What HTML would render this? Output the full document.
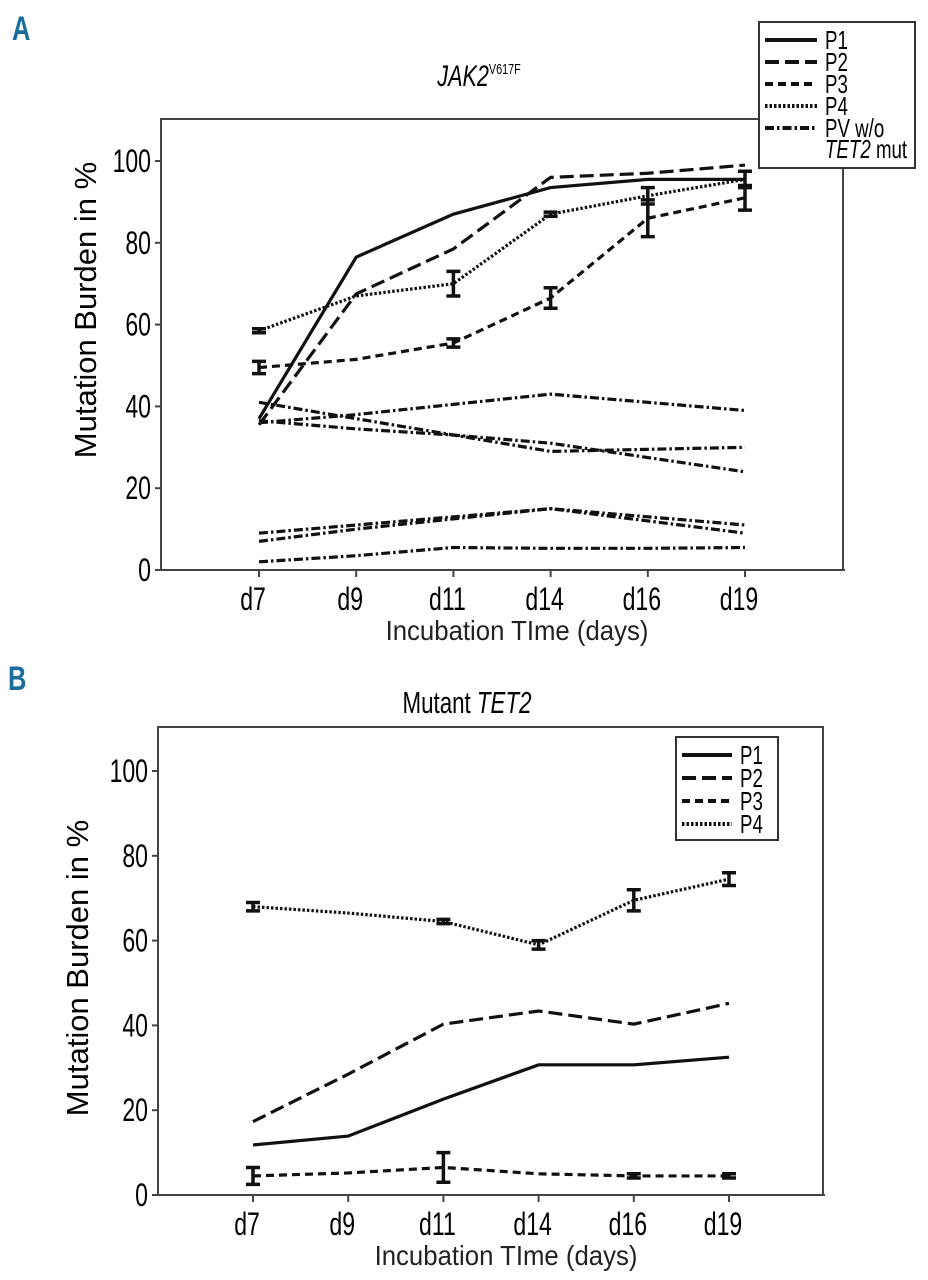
<!DOCTYPE html>
<html><head><meta charset="utf-8"><style>
html,body{margin:0;padding:0;background:#fff;}
svg{display:block;font-family:"Liberation Sans Narrow","Liberation Sans",sans-serif;}
</style></head><body>
<svg id="fig" width="928" height="1280" viewBox="0 0 928 1280" xmlns="http://www.w3.org/2000/svg">
<text transform="translate(12,40) scale(0.75,1)" font-size="34" font-weight="bold" fill="#1b6e9c">A</text>
<text transform="translate(479,86) scale(0.72,1)" font-size="30" text-anchor="middle" font-style="italic">JAK2<tspan font-size="15" dy="-12" font-style="normal">V617F</tspan></text>
<text transform="translate(8,690) scale(0.75,1)" font-size="34" font-weight="bold" fill="#1b6e9c">B</text>
<text transform="translate(467,713) scale(0.72,1)" font-size="31" text-anchor="middle">Mutant <tspan font-style="italic">TET2</tspan></text>
<g id="pa"></g>
<g id="pb"></g>
</svg>
<script>
const categories = ["d7","d9","d11","d14","d16","d19"];
const yTicks = [0,20,40,60,80,100];
const seriesNames = ["P1","P2","P3","P4"];
// Panel A
const aP1 = [37,76.5,87,93.5,95.5,95.5];
const aP2 = [35.5,67.5,78.5,96,97,99];
const aP3 = [49.5,51.5,55.5,66.5,86,91];
const aP3err = [1.5,0,1,2.5,4.5,3];
const aP4 = [58.5,67,70,87,91.5,95.5];
const aP4err = [0.5,0,3,0.5,2,2];
const aPV1 = [36,38,40.5,43,41,39];
const aPV2 = [41,37,33,29,29.5,30];
const aPV3 = [36.5,34.5,33,31,27.5,24];
const aPV4 = [9,11,13,15,13,11];
const aPV5 = [7,10,12.5,15,12,9];
const aPV6 = [2,3.5,5.5,5.3,5.3,5.5];
// Panel B
const bP1 = [11.8,13.9,22.6,30.7,30.7,32.5];
const bP2 = [17.3,28.5,40.3,43.4,40.3,45.2];
const bP3 = [4.5,5.2,6.5,5,4.5,4.5];
const bP3err = [2,0,3.5,0,0.5,0.5];
const bP4 = [68,66.5,64.5,59,69.5,74.5];
const bP4err = [1,0,0.5,1,2.5,1.5];

const NS="http://www.w3.org/2000/svg";
const SX=0.72;
function mk(parent,tag,attrs){const e=document.createElementNS(NS,tag);for(const k in attrs)e.setAttribute(k,attrs[k]);parent.appendChild(e);return e;}
function txt(parent,x,y,sx,attrs){return mk(parent,'text',Object.assign({transform:`translate(${x},${y}) scale(${sx||SX},1)`},attrs));}
const dashes={P1:"",P2:"14,6",P3:"8,5",P4:"2.5,2",PV:"9,3,2.5,3"};

function panel(g,cfg){
  const xS=i=>cfg.x0+i*cfg.dx;
  const yS=v=>cfg.y0-v*(cfg.y0-cfg.y100)/100;
  const fr=mk(g,'path',{d:`M${cfg.left},${cfg.y0} V${cfg.top} H${cfg.right} V${cfg.y0} M${cfg.left-5},${cfg.y0} H${cfg.right+2}`,fill:'none',stroke:'#444','stroke-width':2});
  
  
  yTicks.forEach(t=>{
    const y=yS(t);
    mk(g,'line',{x1:cfg.left-6,x2:cfg.left,y1:y,y2:y,stroke:'#444','stroke-width':2});
    const tx=txt(g,cfg.left-10,y+11,0,{'font-size':32,'text-anchor':'end'});
    tx.textContent=t;
    
    
  });
  categories.forEach((c,i)=>{
    const x=xS(i);
    mk(g,'line',{x1:x,x2:x,y1:cfg.y0,y2:cfg.y0+7,stroke:'#444','stroke-width':2});
    const tx=txt(g,x-6,cfg.y0+40,0,{'font-size':32,'text-anchor':'middle'});
    tx.textContent=c;
    
    
  });
  const xt=txt(g,cfg.xtX,cfg.y0+70,0.92,{'font-size':28,'text-anchor':'middle',fill:'#222'});
  xt.textContent="Incubation TIme (days)";
  
  
  const yt=mk(g,'text',{x:0,y:0,'font-size':31,'text-anchor':'middle',transform:`translate(${cfg.ytX},${cfg.ytY}) rotate(-90)`});
  yt.textContent="Mutation Burden in %";
  
  
  cfg.series.forEach(s=>{
    const p=mk(g,'polyline',{points:s.v.map((v,i)=>xS(i)+','+yS(v)).join(' '),fill:'none',stroke:'#111','stroke-width':3.2,'stroke-dasharray':dashes[s.k]});
    
    
    if(s.e){s.e.forEach((e,i)=>{ if(!e) return;
      const x=xS(i),y1=yS(s.v[i]+e),y2=yS(s.v[i]-e);
      const eb=mk(g,'path',{d:`M${x},${y1} V${y2} M${x-7},${y1} H${x+7} M${x-7},${y2} H${x+7}`,stroke:'#111','stroke-width':3.5,fill:'none'});
      
      
    });}
  });
  const lb=mk(g,'rect',{x:cfg.lg.x,y:cfg.lg.y,width:cfg.lg.w,height:cfg.lg.h,fill:'#fff',stroke:'#333','stroke-width':2});
  
  
  cfg.lg.items.forEach((it,j)=>{
    const y=cfg.lg.y+cfg.lg.first+j*cfg.lg.step;
    mk(g,'line',{x1:cfg.lg.x+6,x2:cfg.lg.x+cfg.lg.sw,y1:y,y2:y,stroke:'#111','stroke-width':4,'stroke-dasharray':dashes[it]});
    const t=txt(g,cfg.lg.x+cfg.lg.sw+8,y+9,0,{'font-size':26});
    t.textContent=it==='PV'?'PV w/o':it;
    
    
    if(it==='PV'){const t2=txt(g,cfg.lg.x+cfg.lg.sw+8,y+30,0,{'font-size':26});
      t2.innerHTML='<tspan font-style="italic">TET2</tspan> mut';
      
      }
  });
}
panel(document.getElementById('pa'),{left:161,right:843,top:119,y0:570,y100:161,x0:259,dx:97.2,xtX:517,ytX:96,ytY:310,
  series:[{n:'p1',k:'P1',v:aP1},{n:'p2',k:'P2',v:aP2},{n:'p3',k:'P3',v:aP3,e:aP3err},{n:'p4',k:'P4',v:aP4,e:aP4err},
    {n:'pv1',k:'PV',v:aPV1},{n:'pv2',k:'PV',v:aPV2},{n:'pv3',k:'PV',v:aPV3},{n:'pv4',k:'PV',v:aPV4},{n:'pv5',k:'PV',v:aPV5},{n:'pv6',k:'PV',v:aPV6}],
  lg:{x:759,y:22,w:156,h:146,first:18,step:22,sw:58,items:['P1','P2','P3','P4','PV']}});
panel(document.getElementById('pb'),{left:158,right:823,top:727,y0:1195,y100:771,x0:253,dx:95.2,xtX:506,ytX:88,ytY:968,
  series:[{n:'p1',k:'P1',v:bP1},{n:'p2',k:'P2',v:bP2},{n:'p3',k:'P3',v:bP3,e:bP3err},{n:'p4',k:'P4',v:bP4,e:bP4err}],
  lg:{x:676,y:737,w:102,h:103,first:18,step:23,sw:56,items:seriesNames}});
</script>
</body></html>
